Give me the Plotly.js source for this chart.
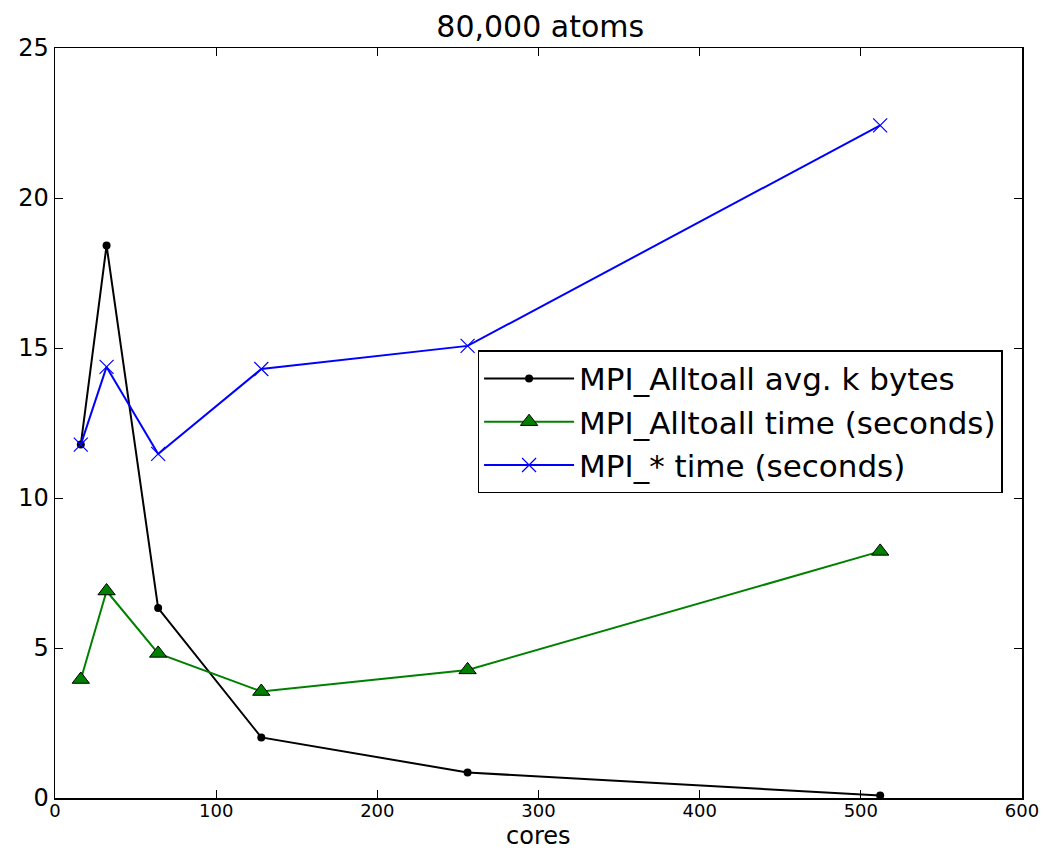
<!DOCTYPE html>
<html>
<head>
<meta charset="utf-8">
<script src="https://cdn.plot.ly/plotly-3.0.1.min.js"></script>
<style>body{margin:0;background:#fff;} #chart{width:1047px;height:851px;}</style>
</head>
<body>
<div id="chart"></div>
<script>
var cores = [16, 32, 64, 128, 256, 512];
var alltoallKBytes = [11.78, 18.42, 6.33, 2.02, 0.85, 0.08];
var alltoallTime = [3.95, 6.9, 4.82, 3.55, 4.27, 8.22];
var mpiTime = [11.78, 14.37, 11.47, 14.3, 15.07, 22.42];
var seriesNames = ['MPI_Alltoall avg. k bytes', 'MPI_Alltoall time (seconds)', 'MPI_* time (seconds)'];
var xTicks = [0, 100, 200, 300, 400, 500, 600];
var yTicks = [0, 5, 10, 15, 20, 25];
var xLabel = 'cores';

var font = 'DejaVu Sans, sans-serif';
var traces = [
  {x: cores, y: alltoallKBytes, name: seriesNames[0], mode: 'lines+markers', type: 'scatter',
   line: {color: '#000000', width: 2}, marker: {symbol: 'circle', size: 8, color: '#000000'}},
  {x: cores, y: alltoallTime, name: seriesNames[1], mode: 'lines+markers', type: 'scatter',
   line: {color: '#008000', width: 2}, marker: {symbol: 'triangle-up', size: 15, color: '#008000', line: {color: '#000000', width: 1}}},
  {x: cores, y: mpiTime, name: seriesNames[2], mode: 'lines+markers', type: 'scatter',
   line: {color: '#0000ff', width: 2}, marker: {symbol: 'x-thin-open', size: 14, color: '#0000ff', line: {color: '#0000ff', width: 1.2}}}
];
var axisCommon = {
  showgrid: false, zeroline: false, showline: true, linecolor: '#000', linewidth: 1.5,
  mirror: 'ticks', ticks: 'inside', ticklen: 8, tickwidth: 1, tickcolor: '#000'
};
var layout = {
  width: 1047, height: 851,
  paper_bgcolor: '#fff', plot_bgcolor: '#fff',
  margin: {l: 55, r: 25, t: 48, b: 53},
  title: {text: '80,000 atoms', font: {family: font, size: 30, color: '#000'}, x: 0.516, xanchor: 'center', y: 0.981, yanchor: 'top'},
  xaxis: Object.assign({}, axisCommon, {range: [0, 600], tickvals: xTicks, ticktext: xTicks.map(String),
    tickfont: {family: font, size: 18, color: '#000'}, ticklabelstandoff: -4}),
  yaxis: Object.assign({}, axisCommon, {range: [0, 25], tickvals: yTicks, ticktext: yTicks.map(String),
    tickfont: {family: font, size: 24, color: '#000'}}),
  annotations: [{text: xLabel, xref: 'paper', yref: 'paper', x: 0.5, y: -0.051, xanchor: 'center', yanchor: 'middle',
    showarrow: false, font: {family: font, size: 24, color: '#000'}}],
  showlegend: true,
  legend: {x: 0.437, xanchor: 'left', y: 0.597, yanchor: 'top', bgcolor: '#fff', bordercolor: '#000', borderwidth: 1.5,
    font: {family: font, size: 31, color: '#000'}, itemwidth: 90}
};
Plotly.newPlot('chart', traces, layout, {displayModeBar: false, staticPlot: true});
</script>
</body>
</html>
